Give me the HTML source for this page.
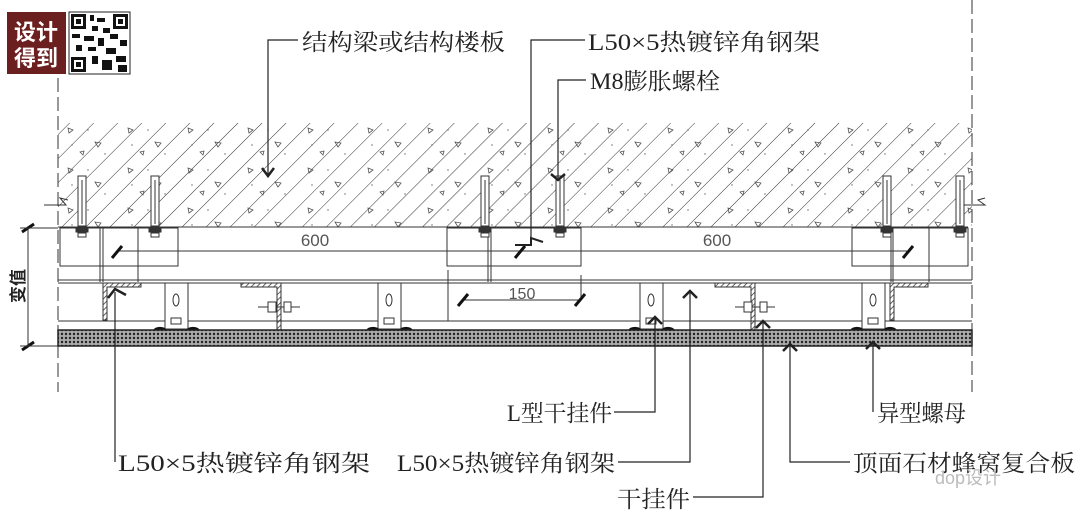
<!DOCTYPE html>
<html><head><meta charset="utf-8"><style>
html,body{margin:0;padding:0;background:#fff;}
svg{display:block;}
text{font-family:"Liberation Serif","Noto Serif CJK SC","Noto Sans CJK SC",serif;fill:#222;}
</style></head><body>
<svg width="1080" height="520" viewBox="0 0 1080 520" xmlns="http://www.w3.org/2000/svg">
<defs>
<pattern id="hatch" width="17" height="17" patternUnits="userSpaceOnUse" patternTransform="rotate(45)">
<line x1="0" y1="0" x2="0" y2="17" stroke="#333" stroke-width="1"/>
</pattern>
<pattern id="tri" width="60" height="40" patternUnits="userSpaceOnUse">
<path d="M8 8 l5 2 l-4 3z M35 22 l6 1 l-3 4z M20 32 l4 -1 l-1 4z" fill="none" stroke="#555" stroke-width="0.8"/>
<circle cx="28" cy="10" r="0.7" fill="#666"/><circle cx="45" cy="34" r="0.7" fill="#666"/><circle cx="12" cy="25" r="0.7" fill="#666"/>
</pattern>
<pattern id="honey" width="4" height="4" patternUnits="userSpaceOnUse">
<rect width="4" height="4" fill="#aaa"/><circle cx="2" cy="2" r="1.2" fill="#222"/>
</pattern>
<pattern id="sh" width="4" height="4" patternUnits="userSpaceOnUse" patternTransform="rotate(45)">
<line x1="0" y1="0" x2="0" y2="4" stroke="#333" stroke-width="1.5"/>
</pattern>
<g id="b" fill="#fff" stroke="#333" stroke-width="1"><rect x="-4" y="176" width="8" height="50"/><line x1="0" y1="180" x2="0" y2="224"/><rect x="-6" y="229" width="12" height="3" fill="#333"/><rect x="-4" y="233" width="8" height="4"/></g>
<g id="br" fill="#fff" stroke="#333" stroke-width="1"><rect x="0" y="283" width="23" height="46"/><ellipse cx="11" cy="300" rx="3" ry="6"/><rect x="6" y="318" width="10" height="6"/><line x1="11" y1="329" x2="11" y2="345" stroke-width="3"/></g>
</defs>

<!-- logo -->
<rect x="7" y="12" width="59" height="62" fill="#6b1f1f"/>
<text x="36" y="40" font-size="22" font-weight="bold" text-anchor="middle" style="fill:#fff;font-family:'Noto Sans CJK SC',sans-serif">设计</text>
<text x="36" y="66" font-size="22" font-weight="bold" text-anchor="middle" style="fill:#fff;font-family:'Noto Sans CJK SC',sans-serif">得到</text>
<rect x="69" y="12" width="61" height="62" fill="#fff" stroke="#222" stroke-width="1"/>
<g fill="#111">
<rect x="71" y="14" width="15" height="15"/><rect x="74" y="17" width="9" height="9" fill="#fff"/><rect x="76" y="19" width="5" height="5"/>
<rect x="113" y="14" width="15" height="15"/><rect x="116" y="17" width="9" height="9" fill="#fff"/><rect x="118" y="19" width="5" height="5"/>
<rect x="71" y="57" width="15" height="15"/><rect x="74" y="60" width="9" height="9" fill="#fff"/><rect x="76" y="62" width="5" height="5"/>
<rect x="90" y="15" width="4" height="6"/><rect x="97" y="18" width="8" height="4"/><rect x="92" y="26" width="6" height="5"/><rect x="103" y="28" width="7" height="5"/>
<rect x="72" y="34" width="8" height="4"/><rect x="84" y="36" width="10" height="5"/><rect x="98" y="38" width="6" height="8"/><rect x="110" y="34" width="8" height="5"/><rect x="120" y="40" width="7" height="6"/>
<rect x="76" y="45" width="6" height="6"/><rect x="88" y="47" width="8" height="4"/><rect x="106" y="48" width="10" height="6"/><rect x="92" y="56" width="6" height="8"/>
<rect x="102" y="60" width="10" height="10"/><rect x="116" y="56" width="10" height="6"/><rect x="118" y="65" width="9" height="7"/>
</g>

<!-- dashed borders -->
<line x1="58" y1="78" x2="58" y2="392" stroke="#333" stroke-dasharray="14,5" stroke-width="1"/>
<line x1="972" y1="0" x2="972" y2="392" stroke="#333" stroke-dasharray="14,5" stroke-width="1"/>

<!-- slab -->
<rect x="58" y="123" width="914" height="104" fill="url(#hatch)"/>
<rect x="58" y="123" width="914" height="104" fill="url(#tri)"/>
<line x1="58" y1="227" x2="968" y2="227" stroke="#333"/>
<path d="M44 205 L66 205 L60 198 L68 200" fill="none" stroke="#333"/>
<path d="M962 205 L985 205 L978 200 L985 198" fill="none" stroke="#333"/>

<!-- blocks -->
<g fill="none" stroke="#333" stroke-width="1">
<rect x="60" y="228" width="118" height="38"/>
<line x1="100" y1="228" x2="100" y2="282"/><line x1="103" y1="228" x2="103" y2="282"/><line x1="138" y1="228" x2="138" y2="282"/>
<rect x="447" y="228" width="134" height="38"/>
<line x1="488" y1="228" x2="488" y2="282"/><line x1="491" y1="228" x2="491" y2="282"/>
<rect x="852" y="228" width="116" height="38"/>
<line x1="891" y1="228" x2="891" y2="282"/><line x1="893" y1="228" x2="893" y2="282"/><line x1="929" y1="228" x2="929" y2="282"/>
<line x1="117" y1="251" x2="908" y2="251"/>
<line x1="58" y1="280" x2="972" y2="280"/><line x1="58" y1="283" x2="972" y2="283"/>
<line x1="58" y1="321" x2="972" y2="321"/>
<line x1="463" y1="300" x2="580" y2="300"/>
<line x1="448" y1="270" x2="448" y2="321"/><line x1="581" y1="275" x2="581" y2="300"/>
</g>
<g stroke="#111" stroke-width="3">
<line x1="112" y1="258" x2="122" y2="246"/><line x1="515" y1="258" x2="525" y2="246"/><line x1="903" y1="258" x2="913" y2="246"/>
<line x1="458" y1="306" x2="468" y2="294"/><line x1="575" y1="306" x2="585" y2="294"/>
<line x1="22" y1="232" x2="34" y2="224"/><line x1="22" y1="350" x2="34" y2="342"/>
</g>
<text x="315" y="246" font-size="17" text-anchor="middle" style="font-family:'Liberation Sans',sans-serif;fill:#555">600</text>
<text x="717" y="246" font-size="17" text-anchor="middle" style="font-family:'Liberation Sans',sans-serif;fill:#555">600</text>
<text x="522" y="299" font-size="16" text-anchor="middle" style="font-family:'Liberation Sans',sans-serif;fill:#555">150</text>
<line x1="28" y1="228" x2="28" y2="346" stroke="#333"/>
<line x1="20" y1="228" x2="58" y2="228" stroke="#333"/><line x1="20" y1="346" x2="58" y2="346" stroke="#333"/>
<text transform="translate(24,286) rotate(-90)" font-size="17" font-weight="bold" text-anchor="middle" style="font-family:'Noto Sans CJK SC',sans-serif">变值</text>

<!-- bolts -->
<use href="#b" x="82"/><use href="#b" x="155"/><use href="#b" x="485"/><use href="#b" x="560"/><use href="#b" x="887"/><use href="#b" x="960"/>

<!-- angles -->
<g fill="url(#sh)" stroke="#333" stroke-width="1">
<path d="M103 283 L141 283 L141 287 L107 287 L107 320 L103 320Z"/>
<path d="M241 283 L281 283 L281 340 L277 340 L277 287 L241 287Z"/>
<path d="M715 283 L755 283 L755 340 L751 340 L751 287 L715 287Z"/>
<path d="M890 283 L928 283 L928 287 L894 287 L894 320 L890 320Z"/>
</g>
<g fill="#fff" stroke="#111" stroke-width="2">
<path d="M268 338 L290 338 L290 344 L268 344Z"/>
<path d="M742 338 L764 338 L764 344 L742 344Z"/>
</g>
<g stroke="#333" stroke-width="1" fill="#fff">
<line x1="258" y1="307" x2="300" y2="307"/><rect x="268" y="302" width="8" height="10"/><rect x="284" y="302" width="7" height="10"/>
<line x1="735" y1="307" x2="775" y2="307"/><rect x="744" y="302" width="8" height="10"/><rect x="760" y="302" width="7" height="10"/>
</g>

<!-- brackets -->
<use href="#br" x="165"/><use href="#br" x="378"/><use href="#br" x="640"/><use href="#br" x="862"/>
<g fill="#111">
<path d="M153 330 a8 6 0 0 1 14 0z"/><path d="M186 330 a8 6 0 0 1 14 0z"/>
<path d="M366 330 a8 6 0 0 1 14 0z"/><path d="M399 330 a8 6 0 0 1 14 0z"/>
<path d="M628 330 a8 6 0 0 1 14 0z"/><path d="M661 330 a8 6 0 0 1 14 0z"/>
<path d="M850 330 a8 6 0 0 1 14 0z"/><path d="M883 330 a8 6 0 0 1 14 0z"/>
</g>

<!-- panel -->
<rect x="58" y="330" width="914" height="16" fill="url(#honey)" stroke="#222" stroke-width="1.5"/>

<!-- leaders -->
<g fill="none" stroke="#222" stroke-width="1.2">
<path d="M298 40 L268 40 L268 176"/><path d="M262 168 L268 176 L274 168" stroke-width="2.5"/>
<path d="M585 40 L531 40 L531 245"/><path d="M515 245 L531 245 L531 238 L543 242" stroke-width="2"/>
<path d="M586 80 L558 80 L558 178"/><path d="M551 174 L558 180 L565 174" stroke-width="2.5"/>
<path d="M115 462 L115 292"/><path d="M108 298 L115 289 L126 295" stroke-width="2.5"/>
<path d="M618 462 L690 462 L690 292"/><path d="M683 298 L690 291 L697 298" stroke-width="2.5"/>
<path d="M614 412 L655 412 L655 318"/><path d="M648 324 L655 317 L662 324" stroke-width="2.5"/>
<path d="M693 497 L763 497 L763 322"/><path d="M756 328 L763 321 L770 328" stroke-width="2.5"/>
<path d="M850 462 L790 462 L790 345"/><path d="M783 351 L790 344 L797 351" stroke-width="2.5"/>
<path d="M873 412 L873 343"/><path d="M866 349 L873 342 L880 349" stroke-width="2.5"/>
</g>
<g font-size="23">
<text x="302" y="50" textLength="203" lengthAdjust="spacingAndGlyphs">结构梁或结构楼板</text>
<text x="588" y="50" textLength="232" lengthAdjust="spacingAndGlyphs">L50×5热镀锌角钢架</text>
<text x="590" y="89" textLength="130" lengthAdjust="spacingAndGlyphs">M8膨胀螺栓</text>
<text x="507" y="421" textLength="105" lengthAdjust="spacingAndGlyphs">L型干挂件</text>
<text x="877" y="421" textLength="89" lengthAdjust="spacingAndGlyphs">异型螺母</text>
<text x="118" y="471" textLength="252" lengthAdjust="spacingAndGlyphs">L50×5热镀锌角钢架</text>
<text x="397" y="471" textLength="218" lengthAdjust="spacingAndGlyphs">L50×5热镀锌角钢架</text>
<text x="853" y="471" textLength="222" lengthAdjust="spacingAndGlyphs">顶面石材蜂窝复合板</text>
<text x="617" y="507" textLength="73" lengthAdjust="spacingAndGlyphs">干挂件</text>
</g>
<text x="935" y="484" font-size="18" style="fill:#bbb;font-family:'Liberation Sans',sans-serif">dop设计</text>
</svg>
</body></html>
